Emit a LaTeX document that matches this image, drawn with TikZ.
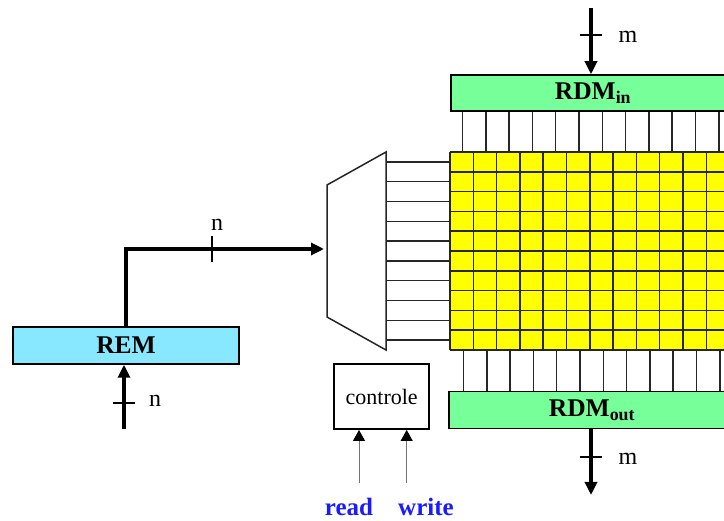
\documentclass[tikz,border=0pt]{standalone}
\usepackage{fontspec}
\setmainfont{Liberation Serif}
\usetikzlibrary{positioning,arrows.meta,calc}
\definecolor{remcyan}{HTML}{88E8FF}
\definecolor{rdmgreen}{HTML}{77FF99}
\definecolor{cellyellow}{HTML}{FFFF00}
\definecolor{sigblue}{HTML}{1A1AFF}

\begin{document}
\begin{tikzpicture}[x=1pt, y=-1pt,
  reg/.style={draw, line width=1.5pt, inner sep=0pt, font=\fontsize{25.5}{30}\selectfont\bfseries},
  ctl/.style={draw, line width=1.5pt, inner sep=0pt, minimum width=95pt, minimum height=65pt, font=\fontsize{22}{26}\selectfont},
  bus/.style={line width=3.2pt, -{Triangle[length=13pt,width=12pt]}},
  sig/.style={line width=1pt, draw=black!55, -{Triangle[length=11pt,width=12pt,color=black]}},
  slashline/.style={line width=1.4pt},
  wire/.style={line width=1.5pt, draw=black!85},
  lbl/.style={font=\fontsize{24}{28}\selectfont},
  sel/.style={inner sep=0pt, font=\fontsize{25}{30}\selectfont\bfseries, text=sigblue}]
\useasboundingbox (0,0) rectangle (724,521);
\clip (0,0) rectangle (724,521);
% memory array
\fill[cellyellow] (450,152) rectangle (740,350);
\foreach \i in {0,...,12} \draw[wire] ({450+23.3*\i},152) -- ({450+23.3*\i},350);
\foreach \j in {0,...,10} \draw[wire] (450,{152+19.8*\j}) -- (740,{152+19.8*\j});
\foreach \i in {0,...,11} \draw[wire] ({462.5+23.3*\i},111) -- ({462.5+23.3*\i},152);
\foreach \i in {0,...,11} \draw[wire] ({463.5+23.3*\i},350) -- ({463.5+23.3*\i},392);
% decoder
\draw[wire, fill=white] (327,185) -- (386,152) -- (386,350) -- (327,317) -- cycle;
\foreach \j in {0,...,9} \draw[wire] (386,{161.9+19.8*\j}) -- (450,{161.9+19.8*\j});
\coordinate (muxin) at (324,249);
% registers
\node[reg, fill=remcyan, minimum width=226pt, minimum height=37pt] (rem) at (126,345.5) {REM};
\node[reg, fill=rdmgreen, minimum width=284pt, minimum height=36pt] (rdmin) at (593,93) {RDM\textsubscript{in}};
\node[reg, fill=rdmgreen, minimum width=286pt, minimum height=37pt] (rdmout) at (592,410) {RDM\textsubscript{out}};
\node[ctl] (ctrl) at (381.7,396.7) {controle};
\node[sel] (read) at (349,507) {read};
\node[sel] (write) at (426,507) {write};
% buses
\coordinate (min) at (591,8);
\coordinate (mintick) at (591,35);
\draw[bus] (min) -- (min |- rdmin.north);
\draw[slashline] ([xshift=-11pt]mintick) -- ([xshift=11pt]mintick);
\node[lbl] (mlblin) at (628,37) {m};
\coordinate (remin) at (124,429);
\coordinate (remtick) at (124,403);
\draw[bus] (remin) -- (remin |- rem.south);
\draw[slashline] ([xshift=-11pt]remtick) -- ([xshift=11pt]remtick);
\node[lbl] (nlblin) at (155,401) {n};
\coordinate (addrtick) at (212,249);
\draw[bus] (rem.north) |- (muxin);
\draw[slashline] ([yshift=-13pt]addrtick) -- ([yshift=13pt]addrtick);
\node[lbl] (nlbladdr) at (217,225) {n};
\coordinate (mout) at (591,495);
\coordinate (mouttick) at (591,457);
\draw[bus] (rdmout.south -| mout) -- (mout);
\draw[slashline] ([xshift=-11pt]mouttick) -- ([xshift=11pt]mouttick);
\node[lbl] (mlblout) at (628,459) {m};
% control inputs
\coordinate (rdsig) at (359,483);
\coordinate (wrsig) at (406.7,483);
\draw[sig] (rdsig) -- (rdsig |- ctrl.south);
\draw[sig] (wrsig) -- (wrsig |- ctrl.south);
\end{tikzpicture}
\end{document}
